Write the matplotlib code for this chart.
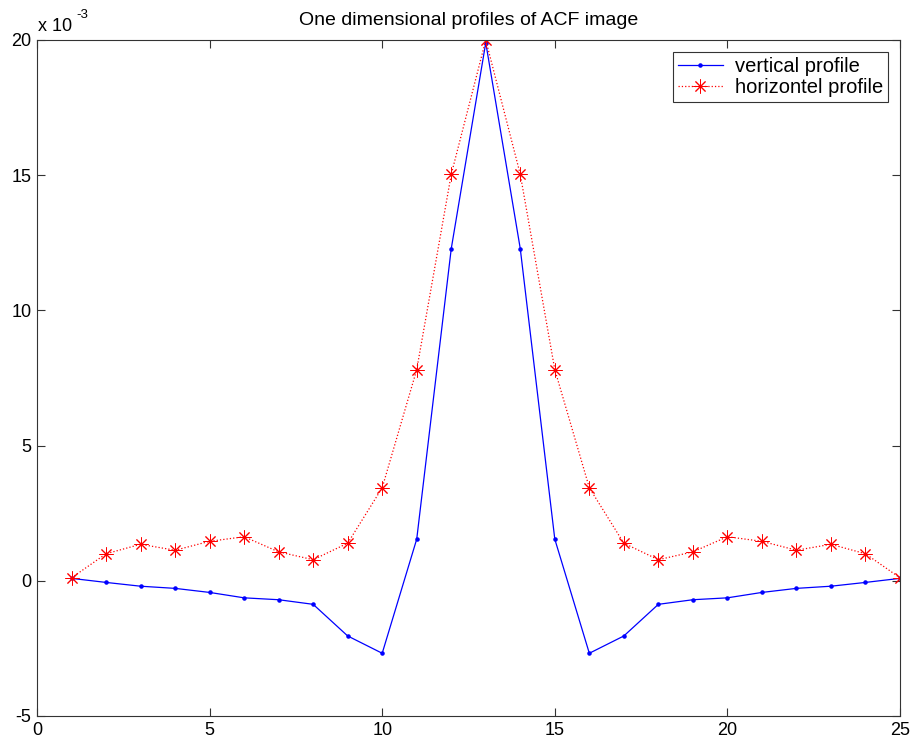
import numpy as np
import matplotlib
matplotlib.use('Agg')
import matplotlib.pyplot as plt

plt.rcParams['font.family'] = ['Liberation Sans', 'DejaVu Sans']
plt.rcParams['axes.unicode_minus'] = False

# Profile values (units of 1e-3)
lag = np.arange(1, 26)
vertical = [0.09, -0.06, -0.20, -0.28, -0.43, -0.63, -0.70, -0.87, -2.04, -2.68,
            1.54, 12.28, 19.90, 12.28, 1.54, -2.68, -2.04, -0.87, -0.70, -0.63,
            -0.43, -0.28, -0.20, -0.06, 0.09]
horizontal = [0.11, 1.00, 1.35, 1.13, 1.46, 1.63, 1.07, 0.78, 1.39, 3.44,
              7.81, 15.03, 20.00, 15.03, 7.81, 3.44, 1.39, 0.78, 1.07, 1.63,
              1.46, 1.13, 1.35, 1.00, 0.11]

fig = plt.figure(figsize=(9.13, 7.49), dpi=100)
ax = fig.add_axes([37 / 913, 33 / 749, 863 / 913, 676 / 749])

ax.plot(lag, vertical, color=(0, 0, 1), linestyle='-', linewidth=0.9,
        marker='.', markersize=4.5, label='vertical profile')
ax.plot(lag, horizontal, color=(1, 0, 0), linestyle=':', linewidth=0.9,
        marker=(8, 2, 0), markersize=10, markeredgewidth=0.7,
        label='horizontel profile')

ax.set_xlim(0, 25)
ax.set_ylim(-5, 20)
ax.set_xticks([0, 5, 10, 15, 20, 25])
ax.set_yticks([-5, 0, 5, 10, 15, 20])
ax.tick_params(direction='in', length=6, width=0.8, top=True, right=True,
               labelsize=13, pad=4, color='#333333')
for s in ax.spines.values():
    s.set_linewidth(0.8)
    s.set_color('#333333')

ax.set_title('One dimensional profiles of ACF image', fontsize=14, pad=11)
ax.text(0.001, 1.008, 'x 10', transform=ax.transAxes, fontsize=13,
        ha='left', va='bottom')
ax.text(0.046, 1.028, '-3', transform=ax.transAxes, fontsize=9.5,
        ha='left', va='bottom')

leg = ax.legend(loc='upper right', fontsize=14.5, fancybox=False, framealpha=1,
                edgecolor='#333333', borderaxespad=0.6, handlelength=2.2,
                handletextpad=0.6, borderpad=0.25, labelspacing=0.1)
leg.get_frame().set_linewidth(0.8)

fig.savefig('out.png', dpi=100)
